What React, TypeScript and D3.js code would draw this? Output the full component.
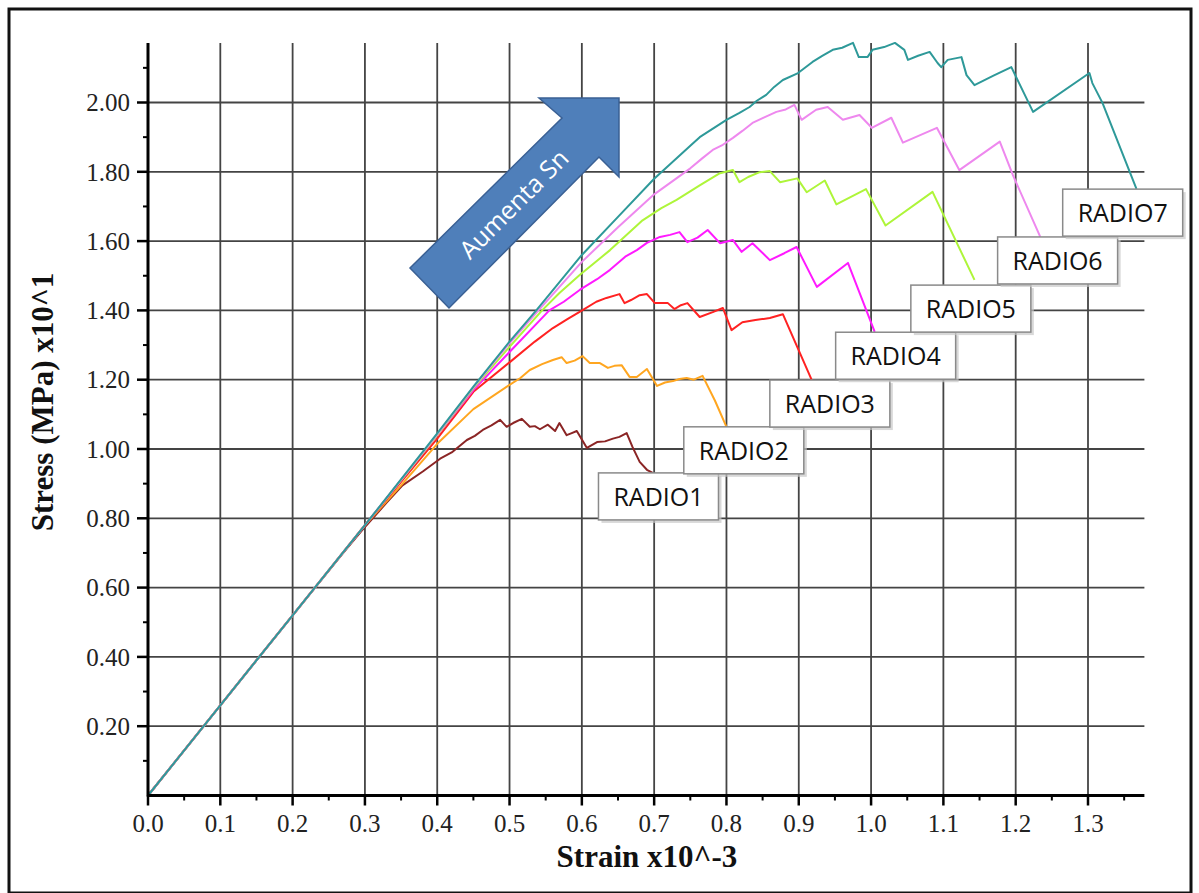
import React from 'react';
import * as d3 from 'd3';

type Pt = [number, number];

const xTickValues = [0, 0.1, 0.2, 0.3, 0.4, 0.5, 0.6, 0.7, 0.8, 0.9, 1.0, 1.1, 1.2, 1.3];
const yTickValues = [0.2, 0.4, 0.6, 0.8, 1.0, 1.2, 1.4, 1.6, 1.8, 2.0];
const xMinorValues = [0.05, 0.15, 0.25, 0.35, 0.45, 0.55, 0.65, 0.75, 0.85, 0.95, 1.05, 1.15, 1.25, 1.35];
const yMinorValues = [0.1, 0.3, 0.5, 0.7, 0.9, 1.1, 1.3, 1.5, 1.7, 1.9, 2.1];

const seriesNames = ['RADIO1', 'RADIO2', 'RADIO3', 'RADIO4', 'RADIO5', 'RADIO6', 'RADIO7'];
const seriesColors = ['#8B2525', '#FFA620', '#FF2222', '#FF1AFF', '#AEF53A', '#EE88EE', '#2E9999'];

const radio1: Pt[] = [
  [0, 0], [0.1, 0.26], [0.2, 0.52], [0.27, 0.70], [0.3, 0.775], [0.33, 0.845], [0.352, 0.895],
  [0.38, 0.935], [0.404, 0.972], [0.42, 0.99], [0.441, 1.026], [0.452, 1.038], [0.463, 1.055],
  [0.475, 1.068], [0.487, 1.084], [0.496, 1.064], [0.505, 1.075], [0.517, 1.087], [0.528, 1.064],
  [0.535, 1.066], [0.542, 1.057], [0.553, 1.070], [0.563, 1.052], [0.569, 1.075], [0.579, 1.040],
  [0.586, 1.046], [0.593, 1.052], [0.607, 1.003], [0.621, 1.020], [0.632, 1.022], [0.643, 1.030],
  [0.652, 1.035], [0.662, 1.046], [0.670, 1.006], [0.680, 0.963], [0.690, 0.940], [0.698, 0.931],
];
const radio2: Pt[] = [
  [0, 0], [0.1, 0.26], [0.2, 0.52], [0.3, 0.78], [0.35, 0.895], [0.4, 1.015], [0.45, 1.115],
  [0.5, 1.185], [0.515, 1.205], [0.528, 1.228], [0.545, 1.245], [0.560, 1.257], [0.572, 1.265],
  [0.579, 1.248], [0.590, 1.255], [0.601, 1.268], [0.611, 1.248], [0.625, 1.248], [0.636, 1.234],
  [0.645, 1.240], [0.655, 1.242], [0.666, 1.208], [0.676, 1.208], [0.690, 1.231], [0.704, 1.182],
  [0.715, 1.192], [0.726, 1.196], [0.735, 1.202], [0.745, 1.205], [0.755, 1.200], [0.767, 1.211],
  [0.784, 1.140], [0.800, 1.064],
];
const radio3: Pt[] = [
  [0, 0], [0.1, 0.26], [0.2, 0.52], [0.3, 0.78], [0.35, 0.905], [0.4, 1.03], [0.45, 1.165],
  [0.5, 1.25], [0.535, 1.31], [0.560, 1.349], [0.580, 1.375], [0.601, 1.401], [0.620, 1.425],
  [0.634, 1.436], [0.652, 1.447], [0.659, 1.421], [0.668, 1.430], [0.680, 1.444], [0.690, 1.447],
  [0.701, 1.421], [0.719, 1.421], [0.728, 1.404], [0.737, 1.415], [0.746, 1.421], [0.763, 1.381],
  [0.781, 1.395], [0.795, 1.407], [0.807, 1.343], [0.822, 1.366], [0.840, 1.372], [0.860, 1.378],
  [0.878, 1.389], [0.918, 1.199],
];
const radio4: Pt[] = [
  [0, 0], [0.1, 0.26], [0.2, 0.52], [0.3, 0.78], [0.35, 0.91], [0.4, 1.04], [0.45, 1.17],
  [0.5, 1.28], [0.555, 1.40], [0.575, 1.425], [0.597, 1.459], [0.621, 1.490], [0.639, 1.517],
  [0.660, 1.555], [0.676, 1.574], [0.690, 1.595], [0.708, 1.612], [0.722, 1.618], [0.735, 1.626],
  [0.746, 1.597], [0.760, 1.610], [0.774, 1.632], [0.791, 1.594], [0.809, 1.603], [0.821, 1.569],
  [0.836, 1.594], [0.860, 1.545], [0.880, 1.565], [0.897, 1.583], [0.925, 1.468], [0.968, 1.537],
  [1.005, 1.338],
];
const radio5: Pt[] = [
  [0, 0], [0.1, 0.26], [0.2, 0.52], [0.3, 0.78], [0.4, 1.04], [0.45, 1.175], [0.5, 1.295],
  [0.545, 1.40], [0.569, 1.45], [0.597, 1.502], [0.639, 1.574], [0.684, 1.660], [0.710, 1.695],
  [0.731, 1.719], [0.763, 1.761], [0.791, 1.796], [0.809, 1.805], [0.818, 1.770], [0.830, 1.785],
  [0.846, 1.799], [0.860, 1.802], [0.874, 1.770], [0.898, 1.781], [0.911, 1.741], [0.936, 1.775],
  [0.952, 1.706], [0.993, 1.750], [1.020, 1.645], [1.085, 1.742], [1.143, 1.488],
];
const radio6: Pt[] = [
  [0, 0], [0.1, 0.26], [0.2, 0.52], [0.3, 0.78], [0.4, 1.042], [0.45, 1.178], [0.5, 1.305],
  [0.54, 1.40], [0.6, 1.54], [0.65, 1.64], [0.7, 1.735], [0.75, 1.81], [0.766, 1.838],
  [0.781, 1.863], [0.795, 1.878], [0.809, 1.898], [0.822, 1.918], [0.836, 1.941], [0.850, 1.955],
  [0.869, 1.973], [0.882, 1.980], [0.894, 1.993], [0.904, 1.950], [0.924, 1.979], [0.940, 1.987],
  [0.961, 1.950], [0.984, 1.964], [1.001, 1.927], [1.028, 1.956], [1.044, 1.884], [1.091, 1.927],
  [1.122, 1.805], [1.178, 1.887], [1.196, 1.791], [1.234, 1.612],
];
const radio7: Pt[] = [
  [0, 0], [0.1, 0.26], [0.2, 0.52], [0.3, 0.78], [0.4, 1.045], [0.45, 1.18], [0.5, 1.31],
  [0.537, 1.40], [0.6, 1.56], [0.65, 1.67], [0.7, 1.78], [0.75, 1.875], [0.763, 1.90],
  [0.80, 1.95], [0.818, 1.970], [0.832, 1.987], [0.842, 2.005], [0.855, 2.022], [0.866, 2.045],
  [0.878, 2.065], [0.899, 2.085], [0.919, 2.117], [0.933, 2.135], [0.947, 2.152], [0.960, 2.158],
  [0.975, 2.172], [0.983, 2.131], [0.995, 2.131], [1.002, 2.152], [1.018, 2.160], [1.033, 2.172],
  [1.046, 2.152], [1.051, 2.123], [1.065, 2.135], [1.081, 2.146], [1.092, 2.114], [1.097, 2.102],
  [1.106, 2.123], [1.125, 2.131], [1.132, 2.079], [1.143, 2.050], [1.170, 2.078], [1.194, 2.102],
  [1.224, 1.973], [1.302, 2.085], [1.306, 2.056], [1.320, 1.999], [1.367, 1.751],
];
const seriesData = [radio1, radio2, radio3, radio4, radio5, radio6, radio7];

const xTitle = 'Strain x10^-3';
const yTitle = 'Stress (MPa) x10^1';
const arrowText = 'Aumenta Sn';

// label box top-left anchors (strain, stress)
const labelAnchors: Pt[] = [
  [0.623, 0.931], [0.741, 1.064], [0.860, 1.199], [0.951, 1.337], [1.055, 1.473], [1.175, 1.612], [1.265, 1.750],
];

export default function App() {
  const x = d3.scaleLinear().domain([0, 1.3]).range([148, 1088]);
  const y = d3.scaleLinear().domain([0, 2]).range([795.5, 102.5]);
  const xMax = 1.378;
  const yMax = 2.172;
  const line = d3.line<Pt>().x((d) => x(d[0])).y((d) => y(d[1]));
  const serif = '"Liberation Serif", "Times New Roman", serif';
  const sans = '"Open Sans", "Noto Sans", sans-serif';
  const gridColor = '#444';
  const boxW = 120;
  const boxH = 47;

  // arrow polygon (pixel layout)
  const arrowPts: Pt[] = [[539, 98], [619, 98], [619, 177], [599, 157], [449, 308], [410, 268], [562, 118]];

  return (
    <svg width={1199} height={893} style={{ position: 'absolute', left: 0, top: 0, background: '#fff' }}>
      <rect x={0} y={0} width={1199} height={893} fill="#fff" />
      <rect x={9} y={9} width={1182} height={884} fill="#fff" stroke="#111" strokeWidth={3} />

      {/* grid */}
      {xTickValues.filter((v) => v > 0).map((v) => (
        <line key={'gx' + v} x1={x(v)} x2={x(v)} y1={y(0)} y2={y(yMax)} stroke={gridColor} strokeWidth={1.8} />
      ))}
      {yTickValues.map((v) => (
        <line key={'gy' + v} x1={x(0)} x2={x(xMax)} y1={y(v)} y2={y(v)} stroke={gridColor} strokeWidth={1.8} />
      ))}

      {/* curves */}
      {seriesData.map((d, i) => (
        <path key={'s' + i} d={line(d) || ''} fill="none" stroke={seriesColors[i]} strokeWidth={2} strokeLinejoin="round" />
      ))}

      {/* axes */}
      <line x1={x(0)} x2={x(0)} y1={y(0) + 1} y2={y(yMax)} stroke="#000" strokeWidth={3} />
      <line x1={x(0) - 1} x2={x(xMax)} y1={y(0)} y2={y(0)} stroke="#000" strokeWidth={3} />
      {yTickValues.map((v) => (
        <line key={'ty' + v} x1={x(0) - 11} x2={x(0)} y1={y(v)} y2={y(v)} stroke="#000" strokeWidth={2.5} />
      ))}
      {yMinorValues.map((v) => (
        <line key={'my' + v} x1={x(0) - 5} x2={x(0)} y1={y(v)} y2={y(v)} stroke="#000" strokeWidth={2} />
      ))}
      {xTickValues.map((v) => (
        <line key={'tx' + v} x1={x(v)} x2={x(v)} y1={y(0)} y2={y(0) + 10} stroke="#000" strokeWidth={2.5} />
      ))}
      {xMinorValues.map((v) => (
        <line key={'mx' + v} x1={x(v)} x2={x(v)} y1={y(0)} y2={y(0) + 5} stroke="#000" strokeWidth={2} />
      ))}
      {yTickValues.map((v) => (
        <text key={'ly' + v} x={x(0) - 18} y={y(v)} dy="0.35em" textAnchor="end" fontFamily={serif} fontSize={25} fill="#222">
          {v.toFixed(2)}
        </text>
      ))}
      {xTickValues.map((v) => (
        <text key={'lx' + v} x={x(v)} y={y(0) + 28} dy="0.35em" textAnchor="middle" fontFamily={serif} fontSize={25} fill="#222">
          {v.toFixed(1)}
        </text>
      ))}
      <text x={647} y={856} dy="0.35em" textAnchor="middle" fontFamily={serif} fontWeight="bold" fontSize={31} fill="#111">
        {xTitle}
      </text>
      <text transform={`translate(42,402) rotate(-90)`} dy="0.35em" textAnchor="middle" fontFamily={serif} fontWeight="bold" fontSize={31} fill="#111">
        {yTitle}
      </text>

      {/* arrow */}
      <polygon points={arrowPts.map((p) => p.join(',')).join(' ')} fill="#4F7FBA" stroke="#3A6094" strokeWidth={1.5} />
      <text transform={`translate(514,204) rotate(-45)`} dy="0.35em" textAnchor="middle" fontFamily={sans} fontSize={25} fill="#fff">
        {arrowText}
      </text>

      {/* labels */}
      {labelAnchors.map((a, i) => {
        const bx = x(a[0]);
        const by = y(a[1]);
        return (
          <g key={'lb' + i}>
            <rect x={bx + 3} y={by + 3} width={boxW} height={boxH} fill="#c8c8c8" opacity={0.7} />
            <rect x={bx} y={by} width={boxW} height={boxH} fill="#fff" stroke="#8a8a8a" strokeWidth={1.5} />
            <text x={bx + boxW / 2} y={by + boxH / 2 + 1} dy="0.35em" textAnchor="middle" fontFamily={sans} fontSize={25} fill="#111">
              {seriesNames[i]}
            </text>
          </g>
        );
      })}
    </svg>
  );
}
